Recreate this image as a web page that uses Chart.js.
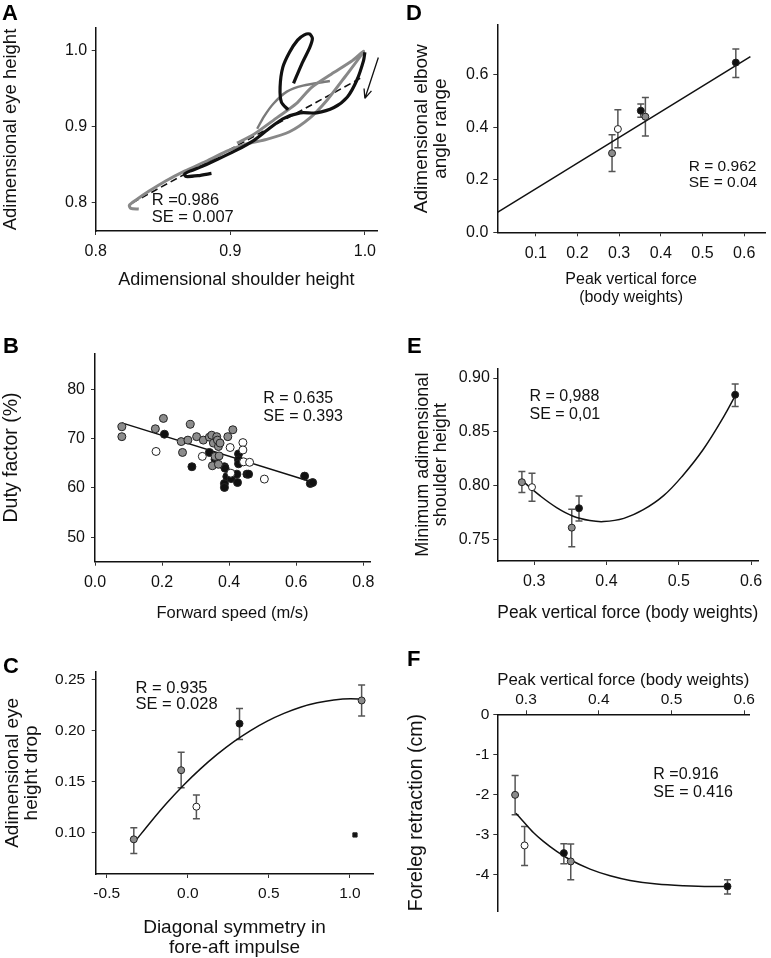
<!DOCTYPE html>
<html lang="en">
<head>
<meta charset="UTF-8">
<title>Figure</title>
<script src="https://cdn.jsdelivr.net/npm/chart.js"></script>
<style>
  html, body { margin: 0; padding: 0; background: #fff; }
  .page { position: relative; width: 771px; height: 958px; overflow: hidden; }
  .page canvas { position: absolute; }
  .lbl { position: absolute; font: bold 22px "Liberation Sans", Arial, sans-serif; line-height: 22px; color: #000; }
</style>
</head>
<body>
<div class="page">
  <canvas id="cA" width="400" height="300" style="left:0;top:0"></canvas>
  <canvas id="cB" width="400" height="330" style="left:0;top:300px"></canvas>
  <canvas id="cC" width="400" height="328" style="left:0;top:630px"></canvas>
  <canvas id="cD" width="386" height="315" style="left:385px;top:0"></canvas>
  <canvas id="cE" width="386" height="315" style="left:385px;top:315px"></canvas>
  <canvas id="cF" width="386" height="328" style="left:385px;top:630px"></canvas>
  <div class="lbl" style="left:2px;top:2px">A</div>
  <div class="lbl" style="left:406px;top:2px">D</div>
  <div class="lbl" style="left:3px;top:335px">B</div>
  <div class="lbl" style="left:407px;top:335px">E</div>
  <div class="lbl" style="left:3px;top:655px">C</div>
  <div class="lbl" style="left:407px;top:648px">F</div>
</div>
<script>
// ---- A: eye vs shoulder height traces
const aBlackX = [0.886, 0.876, 0.867, 0.866, 0.870, 0.880, 0.892, 0.905, 0.917, 0.928, 0.939, 0.952, 0.964, 0.977, 0.987, 0.994, 0.999, 1.000];
const aBlackY = [0.838, 0.835, 0.834, 0.837, 0.841, 0.848, 0.858, 0.869, 0.881, 0.896, 0.910, 0.918, 0.918, 0.925, 0.939, 0.961, 0.987, 0.998];
const aLoopX = [0.943, 0.938, 0.937, 0.939, 0.944, 0.950, 0.955, 0.959, 0.961, 0.959, 0.953, 0.947];
const aLoopY = [0.922, 0.932, 0.952, 0.978, 0.998, 1.014, 1.021, 1.022, 1.016, 1.004, 0.982, 0.957];
const aGrayX = [0.832, 0.826, 0.825, 0.830, 0.840, 0.852, 0.866, 0.882, 0.897, 0.912, 0.927, 0.944, 0.959, 0.972, 0.985, 0.999, 0.990, 0.975, 0.960, 0.949, 0.935, 0.917, 0.905];
const aGrayY = [0.791, 0.792, 0.796, 0.803, 0.815, 0.828, 0.841, 0.854, 0.867, 0.877, 0.883, 0.893, 0.911, 0.935, 0.965, 0.999, 0.986, 0.969, 0.951, 0.930, 0.912, 0.889, 0.878];
const aGray2X = [0.920, 0.925, 0.932, 0.942, 0.954, 0.974];
const aGray2Y = [0.897, 0.913, 0.930, 0.946, 0.954, 0.960];
const aDashX = [0.827, 0.999];
const aDashY = [0.799, 0.966];
const aArrow = [[1.010, 0.991], [1.000, 0.937]];
const aXTicks = ['0.8', '0.9', '1.0'];
const aYTicks = ['0.8', '0.9', '1.0'];

// ---- B: duty factor vs speed
const bGrayX = [0.080, 0.080, 0.180, 0.204, 0.257, 0.261, 0.277, 0.284, 0.303, 0.323, 0.341, 0.348, 0.353, 0.350, 0.358, 0.363, 0.365, 0.368, 0.370, 0.368, 0.373, 0.396, 0.411];
const bGrayY = [72.4, 70.4, 72.0, 74.1, 69.4, 67.2, 69.7, 72.9, 70.4, 69.7, 70.3, 70.7, 69.1, 64.5, 66.4, 70.4, 69.7, 68.4, 66.5, 64.8, 69.1, 70.4, 71.8];
const bOpenX = [0.182, 0.320, 0.403, 0.441, 0.441, 0.443, 0.461, 0.405, 0.505];
const bOpenY = [67.4, 66.4, 68.2, 69.2, 67.7, 65.3, 65.2, 63.0, 61.8];
const bBlackX = [0.207, 0.289, 0.341, 0.358, 0.386, 0.388, 0.386, 0.386, 0.393, 0.406, 0.423, 0.425, 0.428, 0.428, 0.428, 0.453, 0.458, 0.625, 0.642, 0.649];
const bBlackY = [70.9, 64.3, 67.2, 65.8, 64.3, 64.0, 60.9, 60.1, 62.3, 61.9, 62.8, 61.1, 66.9, 65.7, 64.9, 62.8, 62.8, 62.4, 60.9, 61.1];
const bFitX = [0.080, 0.647];
const bFitY = [73.2, 61.2];
const bXTicks = ['0.0', '0.2', '0.4', '0.6', '0.8'];
const bYTicks = ['50', '60', '70', '80'];

// ---- C: eye height drop vs diagonal symmetry
const cX = [-0.333, -0.041, 0.053, 0.319, 1.072];
const cY = [0.0931, 0.1611, 0.1252, 0.2069, 0.2297];
const cLo = [0.0791, 0.1438, 0.1134, 0.1912, 0.2144];
const cHi = [0.1046, 0.1788, 0.1366, 0.2219, 0.2448];
const cGroup = ['g', 'g', 'w', 'b', 'g'];
const cOutX = [1.031];
const cOutY = [0.0974];
const cFitX = [-0.323, -0.230, -0.128, -0.025, 0.078, 0.181, 0.284, 0.387, 0.490, 0.593, 0.695, 0.798, 0.901, 1.004, 1.076];
const cFitY = [0.0915, 0.1100, 0.1291, 0.1466, 0.1624, 0.1766, 0.1892, 0.2001, 0.2094, 0.2170, 0.2231, 0.2274, 0.2302, 0.2313, 0.2312];
const cXTicks = ['-0.5', '0.0', '0.5', '1.0'];
const cYTicks = ['0.10', '0.15', '0.20', '0.25'];

// ---- D: elbow angle range vs peak force
const dX = [0.283, 0.297, 0.352, 0.363, 0.580];
const dY = [0.301, 0.393, 0.463, 0.440, 0.646];
const dLo = [0.231, 0.322, 0.438, 0.367, 0.589];
const dHi = [0.371, 0.466, 0.488, 0.513, 0.698];
const dGroup = ['g', 'w', 'b', 'g', 'b'];
const dFitX = [0.008, 0.615];
const dFitY = [0.076, 0.669];
const dXTicks = ['0.1', '0.2', '0.3', '0.4', '0.5', '0.6'];
const dYTicks = ['0.0', '0.2', '0.4', '0.6'];

// ---- E: minimum shoulder height vs peak force
const eX = [0.283, 0.297, 0.352, 0.362, 0.578];
const eY = [0.8035, 0.7989, 0.7614, 0.7794, 0.8845];
const eLo = [0.7939, 0.7859, 0.7438, 0.7676, 0.8737];
const eHi = [0.8134, 0.8118, 0.7784, 0.7908, 0.8944];
const eGroup = ['g', 'w', 'g', 'b', 'b'];
const eFitX = [0.285, 0.308, 0.331, 0.354, 0.377, 0.396, 0.424, 0.451, 0.479, 0.506, 0.534, 0.562, 0.580];
const eFitY = [0.804, 0.791, 0.780, 0.772, 0.768, 0.767, 0.770, 0.778, 0.791, 0.810, 0.834, 0.864, 0.886];
const eXTicks = ['0.3', '0.4', '0.5', '0.6'];
const eYTicks = ['0.75', '0.80', '0.85', '0.90'];

// ---- F: foreleg retraction vs peak force
const fX = [0.285, 0.298, 0.352, 0.3615, 0.577];
const fY = [-2.007, -3.267, -3.458, -3.665, -4.287];
const fLo = [-2.504, -3.764, -3.723, -4.121, -4.478];
const fHi = [-1.526, -2.794, -3.226, -3.234, -4.121];
const fGroup = ['g', 'w', 'b', 'g', 'b'];
const fFitX = [0.2862, 0.2963, 0.3101, 0.3239, 0.3422, 0.3606, 0.3881, 0.4156, 0.4431, 0.4798, 0.5165, 0.5532, 0.5761];
const fFitY = [-2.463, -2.670, -2.944, -3.167, -3.416, -3.624, -3.856, -4.022, -4.138, -4.229, -4.270, -4.287, -4.287];
const fXTicks = ['0.3', '0.4', '0.5', '0.6'];
const fYTicks = ['0', '-1', '-2', '-3', '-4'];

const FONT = '"Liberation Sans", Arial, Helvetica, sans-serif';
const fills = { g: '#8c8c8c', w: '#ffffff', b: '#111111' };

const pts = (xs, ys) => xs.map((x, i) => ({ x: x, y: ys[i] }));

// vertical error bars with caps, drawn under the markers
const errorBars = {
  id: 'errorBars',
  beforeDatasetsDraw(chart) {
    const ctx = chart.ctx, ys = chart.scales.y;
    chart.data.datasets.forEach((ds, i) => {
      if (!ds.errLo) return;
      const meta = chart.getDatasetMeta(i);
      ctx.save();
      ctx.strokeStyle = '#555';
      ctx.lineWidth = 1.5;
      meta.data.forEach((p, j) => {
        const y1 = ys.getPixelForValue(ds.errLo[j]);
        const y2 = ys.getPixelForValue(ds.errHi[j]);
        ctx.beginPath();
        ctx.moveTo(p.x, y1); ctx.lineTo(p.x, y2);
        ctx.moveTo(p.x - 3.5, y1); ctx.lineTo(p.x + 3.5, y1);
        ctx.moveTo(p.x - 3.5, y2); ctx.lineTo(p.x + 3.5, y2);
        ctx.stroke();
      });
      ctx.restore();
    });
  }
};

// R / SE text and the arrow in A
const notes = {
  id: 'notes',
  afterDatasetsDraw(chart, args, opts) {
    if (!opts || !opts.items) return;
    const ctx = chart.ctx, sx = chart.scales.x, sy = chart.scales.y;
    ctx.save();
    ctx.fillStyle = '#111';
    ctx.font = opts.size + 'px ' + FONT;
    ctx.textBaseline = 'middle';
    ctx.textAlign = 'left';
    opts.items.forEach(it => {
      const x = sx.getPixelForValue(it.x), y = sy.getPixelForValue(it.y);
      it.lines.forEach((t, k) => ctx.fillText(t, x, y + k * opts.gap));
    });
    if (opts.arrow) {
      const x1 = sx.getPixelForValue(opts.arrow[0][0]), y1 = sy.getPixelForValue(opts.arrow[0][1]);
      const x2 = sx.getPixelForValue(opts.arrow[1][0]), y2 = sy.getPixelForValue(opts.arrow[1][1]);
      const ang = Math.atan2(y2 - y1, x2 - x1);
      ctx.strokeStyle = '#111';
      ctx.lineWidth = 1.3;
      ctx.beginPath();
      ctx.moveTo(x1, y1); ctx.lineTo(x2, y2);
      ctx.moveTo(x2, y2); ctx.lineTo(x2 - 10 * Math.cos(ang - 0.4), y2 - 10 * Math.sin(ang - 0.4));
      ctx.moveTo(x2, y2); ctx.lineTo(x2 - 10 * Math.cos(ang + 0.4), y2 - 10 * Math.sin(ang + 0.4));
      ctx.stroke();
    }
    ctx.restore();
  }
};

Chart.register(errorBars, notes);

function markers(xs, ys, groups, lo, hi, r) {
  return {
    data: pts(xs, ys), errLo: lo, errHi: hi, order: 0,
    pointRadius: r, pointHoverRadius: r,
    pointBackgroundColor: groups.map(g => fills[g]),
    pointBorderColor: '#222', pointBorderWidth: 1
  };
}

function curve(xs, ys, extra) {
  return Object.assign({
    data: pts(xs, ys), showLine: true, order: 1,
    pointRadius: 0, borderColor: '#111', borderWidth: 1.5,
    cubicInterpolationMode: 'monotone'
  }, extra || {});
}

function axis(a, horiz) {
  return {
    type: 'linear', position: a.pos, min: a.min, max: a.max, bounds: 'data',
    afterBuildTicks: s => { s.ticks = a.labels.map(t => ({ value: Number(t) })); },
    afterFit: s => { if (horiz) s.height = a.size; else s.width = a.size; },
    ticks: {
      callback: (v, i) => a.labels[i], color: '#111', padding: a.tickPad,
      autoSkip: false, maxRotation: 0, font: { family: FONT, size: a.tickSize }
    },
    grid: { drawOnChartArea: false, drawTicks: true, tickLength: 4, color: '#333' },
    border: { color: '#111', width: 1.5 },
    title: {
      display: true, text: a.title, color: '#111', padding: a.titlePad,
      font: { family: FONT, size: a.titleSize, lineHeight: a.titleLh }
    }
  };
}

function panel(id, pad, x, y, datasets, noteOpts) {
  return new Chart(document.getElementById(id), {
    type: 'scatter',
    data: { datasets: datasets },
    options: {
      responsive: false, animation: false, devicePixelRatio: 1,
      layout: { padding: pad },
      plugins: { legend: { display: false }, tooltip: { enabled: false }, notes: noteOpts },
      scales: { x: axis(x, true), y: axis(y, false) }
    }
  });
}

// A
const traceA = { tension: 0.25, cubicInterpolationMode: 'default', clip: false };
panel('cA', { top: 28, right: 23, bottom: 0, left: 0 },
  { pos: 'bottom', min: 0.8, max: 1.009, labels: aXTicks, size: 69, tickPad: 7.4, tickSize: 16,
    title: 'Adimensional shoulder height', titleSize: 18, titleLh: 1.2, titlePad: { top: 0, bottom: 9 } },
  { pos: 'left', min: 0.762, max: 1.03, labels: aYTicks, size: 95.7, tickPad: 4.5, tickSize: 16,
    title: 'Adimensional eye height', titleSize: 18.5, titleLh: 1.2, titlePad: { top: 0, bottom: 0 } },
  [
    curve(aDashX, aDashY, { borderDash: [7, 4], borderWidth: 1.6, order: 3, cubicInterpolationMode: 'default' }),
    curve(aGrayX, aGrayY, Object.assign({}, traceA, { borderColor: '#888', borderWidth: 3, order: 2 })),
    curve(aGray2X, aGray2Y, Object.assign({}, traceA, { borderColor: '#7a7a7a', borderWidth: 2.4, order: 2 })),
    curve(aBlackX, aBlackY, Object.assign({}, traceA, { borderWidth: 3.2, order: 1 })),
    curve(aLoopX, aLoopY, Object.assign({}, traceA, { borderWidth: 3.2, order: 1 }))
  ],
  { size: 16.5, gap: 17, items: [{ x: 0.8416, y: 0.802, lines: ['R =0.986', 'SE = 0.007'] }], arrow: aArrow });

// B
panel('cB', { top: 53.3, right: 30, bottom: 0, left: 0 },
  { pos: 'bottom', min: 0, max: 0.82, labels: bXTicks, size: 68.3, tickPad: 7.4, tickSize: 16,
    title: 'Forward speed (m/s)', titleSize: 16.5, titleLh: 1.2, titlePad: { top: 0, bottom: 7 } },
  { pos: 'left', min: 45.05, max: 87.3, labels: bYTicks, size: 95, tickPad: 6, tickSize: 16,
    title: 'Duty factor (%)', titleSize: 19.5, titleLh: 1.2, titlePad: { top: 0, bottom: 0 } },
  [
    markers(bGrayX, bGrayY, bGrayX.map(() => 'g'), null, null, 4),
    markers(bOpenX, bOpenY, bOpenX.map(() => 'w'), null, null, 4),
    markers(bBlackX, bBlackY, bBlackX.map(() => 'b'), null, null, 4),
    curve(bFitX, bFitY, { cubicInterpolationMode: 'default' })
  ],
  { size: 16, gap: 18.4, items: [{ x: 0.502, y: 78.2, lines: ['R = 0.635', 'SE = 0.393'] }] });

// C
panel('cC', { top: 41.7, right: 26.7, bottom: 0, left: 0 },
  { pos: 'bottom', min: -0.568, max: 1.144, labels: cXTicks, size: 84, tickPad: 6, tickSize: 15.5,
    title: ['Diagonal symmetry in', 'fore-aft impulse'], titleSize: 19, titleLh: 1.05, titlePad: { top: 0, bottom: 0 } },
  { pos: 'left', min: 0.059, max: 0.258, labels: cYTicks, size: 95.7, tickPad: 6.5, tickSize: 15.5,
    title: ['Adimensional eye', 'height drop'], titleSize: 19, titleLh: 1.0, titlePad: { top: 3.5, bottom: 0 } },
  [
    markers(cX, cY, cGroup, cLo, cHi, 3.5),
    Object.assign(markers(cOutX, cOutY, ['b'], null, null, 3), { pointStyle: 'rect' }),
    curve(cFitX, cFitY)
  ],
  { size: 16.5, gap: 16, items: [{ x: -0.3225, y: 0.2418, lines: ['R = 0.935', 'SE = 0.028'] }] });

// D
panel('cD', { top: 25, right: 6, bottom: 0, left: 0 },
  { pos: 'bottom', min: 0.0077, max: 0.65, labels: dXTicks, size: 82.7, tickPad: 7.4, tickSize: 16,
    title: ['Peak vertical force', '(body weights)'], titleSize: 16, titleLh: 1.15, titlePad: { top: 0, bottom: 7.8 } },
  { pos: 'left', min: 0, max: 0.789, labels: dYTicks, size: 112.3, tickPad: 5, tickSize: 16,
    title: ['Adimensional elbow', 'angle range'], titleSize: 19, titleLh: 1.0, titlePad: { top: 27.5, bottom: 0 } },
  [
    markers(dX, dY, dGroup, dLo, dHi, 3.5),
    curve(dFitX, dFitY, { cubicInterpolationMode: 'default' })
  ],
  { size: 15.5, gap: 16, items: [{ x: 0.467, y: 0.25, lines: ['R = 0.962', 'SE = 0.04'] }] });

// E
panel('cE', { top: 53.3, right: 12.7, bottom: 0, left: 0 },
  { pos: 'bottom', min: 0.249, max: 0.61, labels: eXTicks, size: 69, tickPad: 7, tickSize: 16,
    title: 'Peak vertical force (body weights)', titleSize: 17.5, titleLh: 1.2, titlePad: { top: 0, bottom: 6.5 } },
  { pos: 'left', min: 0.7305, max: 0.909, labels: eYTicks, size: 112.3, tickPad: 3.5, tickSize: 16,
    title: ['Minimum adimensional', 'shoulder height'], titleSize: 18, titleLh: 1.0, titlePad: { top: 29, bottom: 0 } },
  [
    markers(eX, eY, eGroup, eLo, eHi, 3.5),
    curve(eFitX, eFitY, { tension: 0.4, cubicInterpolationMode: 'default' })
  ],
  { size: 16, gap: 17.7, items: [{ x: 0.2935, y: 0.8824, lines: ['R = 0,988', 'SE = 0,01'] }] });

// F
panel('cF', { top: 0, right: 21.7, bottom: 47, left: 0 },
  { pos: 'top', min: 0.2605, max: 0.607, labels: fXTicks, size: 84.3, tickPad: 1, tickSize: 15.5,
    title: 'Peak vertical force (body weights)', titleSize: 17, titleLh: 1.2, titlePad: { top: 39.8, bottom: 0 } },
  { pos: 'left', min: -4.9, max: 0, labels: fYTicks, size: 112.3, tickPad: 4, tickSize: 15.5,
    title: 'Foreleg retraction (cm)', titleSize: 19.5, titleLh: 1.2, titlePad: { top: 20.3, bottom: 0 } },
  [
    markers(fX, fY, fGroup, fLo, fHi, 3.5),
    curve(fFitX, fFitY)
  ],
  { size: 16, gap: 17.7, items: [{ x: 0.4751, y: -1.51, lines: ['R =0.916', 'SE = 0.416'] }] });
</script>
</body>
</html>
